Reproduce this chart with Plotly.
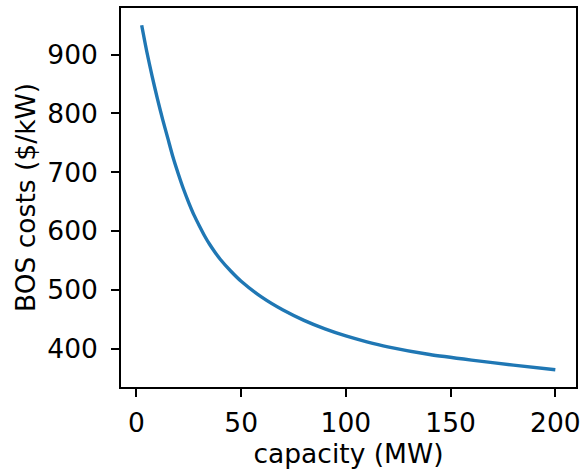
import plotly.graph_objects as go

capacity_mw = [2.5, 5, 7.5, 10, 12.5, 15, 17.5, 20, 22.5, 25, 27.5, 30, 32.5, 35, 37.5, 40,
               45, 50, 60, 70, 80, 90, 100, 110, 120, 140, 160, 180, 200]
bos_costs = [950, 904, 863, 825, 790, 757.5, 725, 697, 671, 648, 627, 609, 592, 577, 564, 552,
             532, 514.5, 487, 465.5, 448, 433.5, 421.5, 411.5, 403, 390, 380.5, 372, 364]

x_ticks = [0, 50, 100, 150, 200]
y_ticks = [400, 500, 600, 700, 800, 900]

FONT = "DejaVu Sans"
FS = 26.5

fig = go.Figure()
fig.add_trace(go.Scatter(x=capacity_mw, y=bos_costs, mode="lines",
                         line=dict(color="#1f77b4", width=3.4, shape="spline", smoothing=0.6),
                         showlegend=False, hoverinfo="skip"))

xmin, xmax = min(capacity_mw), max(capacity_mw)
ymin, ymax = min(bos_costs), max(bos_costs)
xpad = 0.05 * (xmax - xmin)
ypad = 0.05 * (ymax - ymin)

axis_common = dict(showline=True, linecolor="black", linewidth=1.6, mirror=True,
                   ticks="outside", ticklen=8, tickwidth=1.6, tickcolor="black",
                   showgrid=False, zeroline=False, automargin=False,
                   tickfont=dict(family=FONT, size=FS, color="black"))

fig.update_layout(
    width=581, height=469,
    margin=dict(l=121, r=5, t=8, b=82),
    paper_bgcolor="white", plot_bgcolor="white",
    font=dict(family=FONT, size=FS, color="black"),
    xaxis=dict(range=[xmin - xpad, xmax + xpad], tickvals=x_ticks,
               ticklabelstandoff=3,
               title=dict(text="capacity (MW)", font=dict(family=FONT, size=FS), standoff=6),
               **axis_common),
    yaxis=dict(range=[ymin - ypad, ymax + ypad], tickvals=y_ticks,
               ticklabelstandoff=8,
               title=dict(text="BOS costs ($/kW)", font=dict(family=FONT, size=FS), standoff=4),
               **axis_common),
)

fig.write_html("out.html", config={"displayModeBar": False},
               post_script="document.body.style.margin='0';document.body.style.overflow='hidden';")
